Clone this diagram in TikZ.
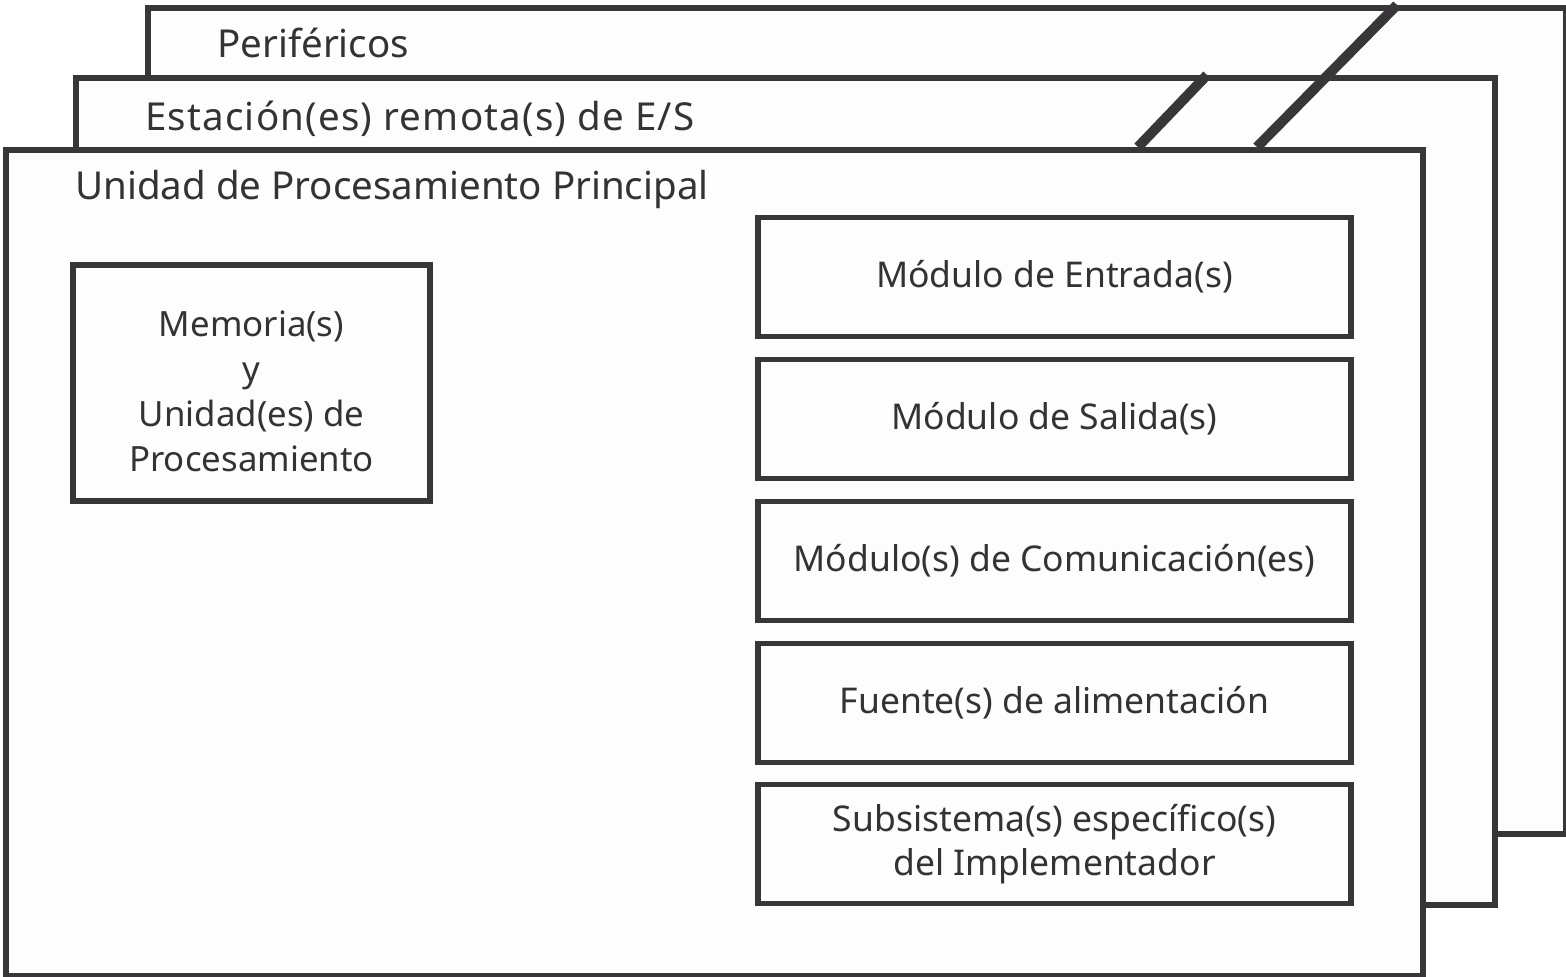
\documentclass[tikz,border=0pt]{standalone}
\usepackage{fontspec}
\setmainfont{Noto Sans}
\definecolor{stroke}{HTML}{383638}
\definecolor{txt}{HTML}{333333}
\definecolor{boxfill}{HTML}{FDFDFD}
\begin{document}
\begin{tikzpicture}[x=1pt,y=-1pt,
  frame/.style={draw=stroke,line width=5.5pt,fill=boxfill},
  slash/.style={draw=stroke,line width=10pt},
  lbl/.style={text=txt,font=\fontsize{38.5}{45}\selectfont,inner sep=0pt},
  modbox/.style={frame,minimum width=593pt,minimum height=119pt,inner sep=0pt,text=txt,font=\fontsize{35.5}{44}\selectfont,align=center},
]
\useasboundingbox (0,0) rectangle (1566,977);
\fill[white] (0,0) rectangle (1566,977);
% back frames
\node[frame,anchor=north west,minimum width=1418pt,minimum height=826pt,inner sep=0pt] (per) at (145,5) {};
\node[frame,anchor=north west,minimum width=1419pt,minimum height=827pt,inner sep=0pt] (est) at (73,75) {};
\node[frame,anchor=north west,minimum width=1417pt,minimum height=826pt,inner sep=0pt] (upp) at (3,147) {};
% slashes
\coordinate (s1a) at (1138,147);
\coordinate (s1b) at (1207,75);
\coordinate (s2a) at (1257,147);
\coordinate (s2b) at (1397,5);
\draw[slash] (s1a) -- (s1b);
\draw[slash] (s2a) -- (s2b);
% titles
\node[lbl,anchor=base west] (tper) at (217,57) {Periféricos};
\node[lbl,anchor=base west] (test) at (145,130) {\addfontfeature{LetterSpace=3.1}Estación(es) remota(s) de E/S};
\node[lbl,anchor=base west] (tupp) at (75,199) {Unidad de Procesamiento Principal};
% memory box
\node[frame,minimum width=357pt,minimum height=236pt,inner sep=0pt] (mem) at (251.5,383) {};
\node[text=txt,font=\fontsize{34.8}{45}\selectfont,align=center,inner sep=0pt] (memt) at (251.5,391) {Memoria(s)\\y\\Unidad(es) de\\Procesamiento};
% modules
\node[modbox] (m1) at (1054.5,277) {Módulo de Entrada(s)};
\node[modbox] (m2) at (1054.5,419) {Módulo de Salida(s)};
\node[modbox] (m3) at (1054.5,561) {Módulo(s) de Comunicación(es)};
\node[modbox] (m4) at (1054.5,703) {Fuente(s) de alimentación};
\node[modbox] (m5) at (1054.5,844) {Subsistema(s) específico(s)\\del Implementador};
\end{tikzpicture}
\end{document}
